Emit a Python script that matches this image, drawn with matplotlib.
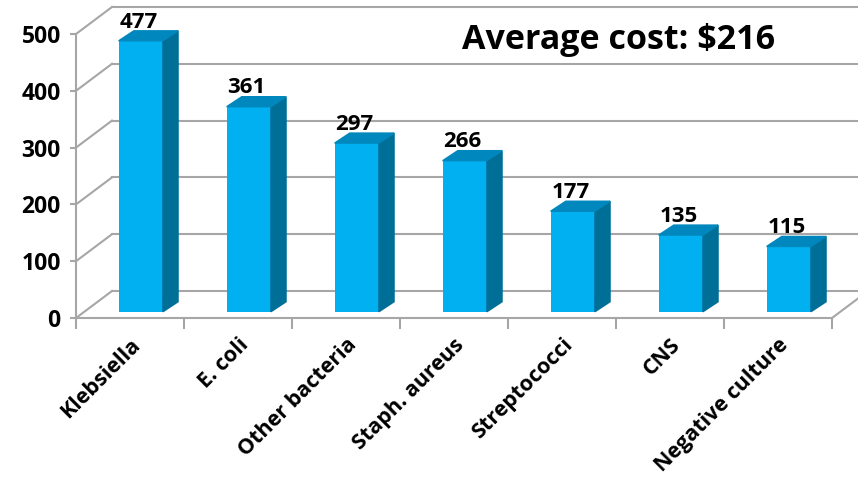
import matplotlib.pyplot as plt
from matplotlib.patches import Polygon

plt.rcParams['font.family'] = ['Open Sans', 'DejaVu Sans']
plt.rcParams['font.weight'] = 'bold'

categories = ['Klebsiella', 'E. coli', 'Other bacteria', 'Staph. aureus',
              'Streptococci', 'CNS', 'Negative culture']
costs = [477, 361, 297, 266, 177, 135, 115]
yticks = [0, 100, 200, 300, 400, 500]
title = 'Average cost: $216'

# fake 3d depth, in data units
WALL_DX, WALL_DY = 0.333, 47.5      # side wall / floor depth
FACE_DX, FACE_DY = 0.10, 11.0       # where the bar front face sits
BAR_DX, BAR_DY = 0.14, 17.6         # bar depth
BAR_W = 0.41
GRID = '#a6a6a6'
FRONT, SIDE, TOP = '#00b0f0', '#006f98', '#0087bd'

fig = plt.figure(figsize=(8.58, 4.80), dpi=100)
ax = fig.add_axes([76 / 858, 1 - 318 / 480, 756 / 858, 284 / 480])
ax.set_xlim(-0.5, len(categories) - 0.5)
ax.set_ylim(0, 500)
ax.patch.set_visible(False)
for s in ['top', 'right', 'bottom']:
    ax.spines[s].set_visible(False)
ax.spines['left'].set_color(GRID)
ax.spines['left'].set_linewidth(1.5)

# walls: side wall diagonals + back wall grid
x0 = -0.5
for v in yticks:
    ax.plot([x0, x0 + WALL_DX], [v, v + WALL_DY], color=GRID, lw=1.5,
            clip_on=False, zorder=1)
    ax.plot([x0 + WALL_DX, 7.5], [v + WALL_DY, v + WALL_DY], color=GRID,
            lw=1.5, clip_on=False, zorder=1)
# floor front edge and right diagonal
xe = len(categories) - 0.5
ax.plot([x0, xe], [0, 0], color=GRID, lw=1.5, clip_on=False, zorder=1)
ax.plot([xe, xe + WALL_DX], [0, WALL_DY], color=GRID, lw=1.5,
        clip_on=False, zorder=1)

# bars
for i, v in enumerate(costs):
    left = i - BAR_W / 2 + FACE_DX
    right = left + BAR_W
    bot = FACE_DY
    top = FACE_DY + v
    ax.bar(left, v, width=BAR_W, bottom=bot, align='edge', color=FRONT,
           zorder=3, clip_on=False)
    side = [(right, bot), (right + BAR_DX, bot + BAR_DY),
            (right + BAR_DX, top + BAR_DY), (right, top)]
    ax.add_patch(Polygon(side, closed=True, color=SIDE, zorder=3,
                         clip_on=False))
    topf = [(left, top), (right, top), (right + BAR_DX, top + BAR_DY),
            (left + BAR_DX, top + BAR_DY)]
    ax.add_patch(Polygon(topf, closed=True, color=TOP, zorder=3,
                         clip_on=False))
    ax.text(left + BAR_W / 2 - 0.02, top + BAR_DY - 3, str(v), ha='center',
            va='bottom', fontsize=16, fontweight='bold', zorder=4)

# y axis
ax.set_yticks(yticks)
ax.tick_params(axis='y', length=4, width=1.5, color=GRID, labelsize=16.5,
               pad=7)

# x axis: boundary ticks, labels at centres
ax.set_xticks([i - 0.5 for i in range(len(categories) + 1)])
ax.set_xticklabels([])
ax.tick_params(axis='x', length=8, width=1.5, color=GRID)
ax.set_xticks(range(len(categories)), minor=True)
ax.set_xticklabels(categories, minor=True, rotation=45, ha='right',
                   va='top', rotation_mode='anchor', fontsize=15.5,
                   fontweight='bold')
ax.tick_params(axis='x', which='minor', length=0, pad=12)
for lab in ax.get_yticklabels():
    lab.set_fontweight('bold')

fig.text(462 / 858, 1 - 40 / 480, title, ha='left', va='center',
         fontsize=24.5, fontweight='bold')

fig.savefig('out.png', dpi=100)
